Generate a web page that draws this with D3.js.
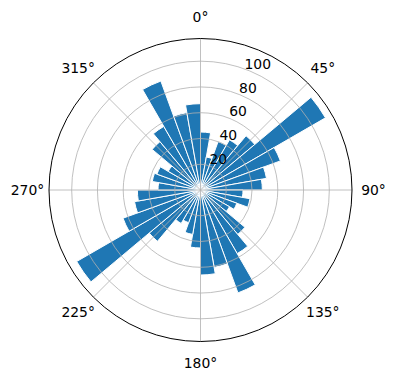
<!DOCTYPE html>
<html>
<head>
<meta charset="utf-8">
<script src="https://cdn.jsdelivr.net/npm/d3@7"></script>
<style>
  body { margin: 0; background: #fff; }
  svg text { font-family: "DejaVu Sans", sans-serif; }
</style>
</head>
<body>
<div id="chart"></div>
<script>
// Bin starts (degrees, clockwise from north), 10 degree bins
const binStarts = [0, 10, 20, 30, 40, 50, 60, 70, 80,
                   90, 100, 110, 120, 130, 140, 150, 160, 170,
                   180, 190, 200, 210, 220, 230, 240, 250, 260,
                   270, 280, 290, 300, 310, 320, 330, 340, 350];
const binWidth = 10;
const counts = [45, 26, 40, 45, 55, 112, 66, 52, 48,
                33, 39, 30, 26, 45, 57, 85, 61, 66,
                45, 35, 27, 30, 52, 111, 64, 52, 49,
                33, 38, 36, 29, 49, 57, 90, 61, 67];
const radialTicks = [20, 40, 60, 80, 100];
const angleTicks = [0, 45, 90, 135, 180, 225, 270, 315];

const width = 396, height = 380;
const cx = 200.5, cy = 190, outerR = 151.5;
const rMax = d3.max(counts) * 1.05;

const svg = d3.select('#chart').append('svg')
    .attr('width', width)
    .attr('height', height);

const g = svg.append('g').attr('transform', `translate(${cx},${cy})`);

const r = d3.scaleLinear().domain([0, rMax]).range([0, outerR]);
const toRad = d => d * Math.PI / 180;

// bars
const arc = d3.arc()
    .innerRadius(0)
    .outerRadius(d => r(d.value))
    .startAngle(d => toRad(d.start))
    .endAngle(d => toRad(d.start + binWidth));

g.selectAll('path.bar')
    .data(binStarts.map((s, i) => ({ start: s, value: counts[i] })))
    .join('path')
    .attr('class', 'bar')
    .attr('d', arc)
    .attr('fill', '#1f77b4')
    .attr('stroke', '#ffffff')
    .attr('stroke-width', 1);

// grid circles
g.selectAll('circle.grid')
    .data(radialTicks)
    .join('circle')
    .attr('class', 'grid')
    .attr('r', d => r(d))
    .attr('fill', 'none')
    .attr('stroke', '#b0b0b0')
    .attr('stroke-width', 0.8);

// angular grid lines
g.selectAll('line.spoke')
    .data(angleTicks)
    .join('line')
    .attr('class', 'spoke')
    .attr('x1', 0).attr('y1', 0)
    .attr('x2', d => outerR * Math.sin(toRad(d)))
    .attr('y2', d => -outerR * Math.cos(toRad(d)))
    .attr('stroke', '#b0b0b0')
    .attr('stroke-width', 0.8);

// outer spine
g.append('circle')
    .attr('r', outerR)
    .attr('fill', 'none')
    .attr('stroke', '#000')
    .attr('stroke-width', 1);

// angle labels, centred on a ring outside the spine
const labelR = 173;
g.selectAll('text.theta')
    .data(angleTicks)
    .join('text')
    .attr('class', 'theta')
    .attr('x', d => labelR * Math.sin(toRad(d)))
    .attr('y', d => -labelR * Math.cos(toRad(d)))
    .attr('text-anchor', 'middle')
    .attr('dy', '0.36em')
    .attr('font-size', '13.9px')
    .attr('fill', '#000')
    .text(d => d + '°');

// radial labels along 22.5 degrees
const labelAngle = toRad(22.5);
g.selectAll('text.rlabel')
    .data(radialTicks)
    .join('text')
    .attr('class', 'rlabel')
    .attr('x', d => r(d) * Math.sin(labelAngle) + 8)
    .attr('y', d => -r(d) * Math.cos(labelAngle) - 7)
    .attr('text-anchor', 'middle')
    .attr('dy', '0.35em')
    .attr('font-size', '13.9px')
    .attr('fill', '#000')
    .text(d => d);
</script>
</body>
</html>
